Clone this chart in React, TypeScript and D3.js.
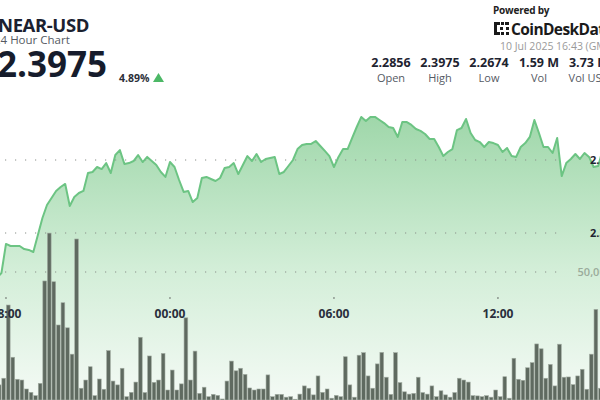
import React from "react";
import * as d3 from "d3";

// 10-minute steps, 2025-07-09 16:50 → 2025-07-10 16:40 (GMT)
const startTime = new Date(Date.UTC(2025, 6, 9, 16, 50));
const stepMinutes = 10;

const prices: number[] = [
  2.2856, 2.2801, 2.2760, 2.2712, 2.2674, 2.2692, 2.2726, 2.2925, 2.2911, 2.2911,
  2.2911, 2.2890, 2.2884, 2.2870, 2.2986, 2.3103, 2.3192, 2.3240, 2.3288, 2.3315,
  2.3336, 2.3185, 2.3247, 2.3274, 2.3288, 2.3411, 2.3418, 2.3452, 2.3438, 2.3479,
  2.3411, 2.3534, 2.3568, 2.3473, 2.3479, 2.3493, 2.3534, 2.3486, 2.3521, 2.3493,
  2.3466, 2.3418, 2.3384, 2.3486, 2.3452, 2.3363, 2.3281, 2.3288, 2.3212, 2.3240,
  2.3377, 2.3384, 2.3370, 2.3356, 2.3377, 2.3445, 2.3452, 2.3479, 2.3404, 2.3466,
  2.3527, 2.3493, 2.3541, 2.3486, 2.3507, 2.3514, 2.3521, 2.3404, 2.3418, 2.3459,
  2.3500, 2.3575, 2.3603, 2.3610, 2.3610, 2.3630, 2.3596, 2.3562, 2.3527, 2.3452,
  2.3521, 2.3575, 2.3575, 2.3651, 2.3726, 2.3795, 2.3767, 2.3795, 2.3795, 2.3774,
  2.3753, 2.3726, 2.3719, 2.3658, 2.3760, 2.3760, 2.3740, 2.3712, 2.3699, 2.3678,
  2.3644, 2.3644, 2.3589, 2.3527, 2.3555, 2.3575, 2.3705, 2.3719, 2.3781, 2.3685,
  2.3637, 2.3623, 2.3589, 2.3623, 2.3616, 2.3603, 2.3555, 2.3582, 2.3527, 2.3521,
  2.3589, 2.3616, 2.3658, 2.3774, 2.3685, 2.3589, 2.3589, 2.3548, 2.3651, 2.3390,
  2.3479, 2.3507, 2.3541, 2.3507, 2.3548, 2.3521, 2.3452, 2.3459, 2.3568, 2.3651,
  2.3740, 2.3829, 2.3911, 2.3975,
];

const volumes: number[] = [
  5900, 3900, 7800, 3100, 4700, 5900, 8500, 37100, 16700, 8100,
  7800, 4300, 3000, 1700, 6500, 46500, 65200, 46200, 29300, 38000,
  28200, 17900, 62900, 4600, 7800, 13000, 1700, 8200, 4200, 19300,
  7400, 5900, 12400, 1300, 3000, 7000, 24500, 2900, 17200, 6900,
  7800, 18200, 3900, 11700, 3900, 6300, 32100, 7800, 19100, 2600,
  5000, 1300, 2200, 1800, 400, 7400, 15200, 11400, 12400, 10000,
  4700, 3900, 4300, 4300, 9800, 1300, 2200, 2200, 1100, 1300,
  300, 2300, 5500, 4600, 2000, 9400, 3000, 4300, 700, 1800,
  1300, 16900, 5900, 1100, 17500, 18500, 9400, 4600, 14100, 18600,
  8900, 2200, 18500, 6800, 3200, 2300, 2600, 8900, 2900, 2300,
  5500, 1300, 3600, 2000, 1100, 2900, 8500, 7800, 7000, 1700,
  1600, 1300, 1700, 1100, 3900, 1300, 9100, 700, 16300, 8100,
  7700, 12600, 14600, 21900, 20000, 8500, 13900, 5500, 21800, 8900,
  9000, 6000, 9400, 12000, 4200, 17900, 35400, 4600, 31300, 39100,
  27300, 23400, 19500, 15600,
];

const xTickTimes: Date[] = [
  new Date(Date.UTC(2025, 6, 9, 18, 0)),
  new Date(Date.UTC(2025, 6, 10, 0, 0)),
  new Date(Date.UTC(2025, 6, 10, 6, 0)),
  new Date(Date.UTC(2025, 6, 10, 12, 0)),
];
const xTickLabels: string[] = ["18:00", "00:00", "06:00", "12:00"];

const priceTicks: number[] = [2.35, 2.3];
const priceTickLabels: string[] = ["2.35", "2.30"];
const volumeTicks: number[] = [50000];
const volumeTickLabels: string[] = ["50,000"];

const statValues: string[] = ["2.2856", "2.3975", "2.2674", "1.59 M", "3.73 M"];
const statLabels: string[] = ["Open", "High", "Low", "Vol", "Vol USD"];

const FONT = "'Open Sans', 'Noto Sans', sans-serif";

export default function App() {
  const W = 600;
  const H = 400;
  const times = prices.map((_, i) => new Date(startTime.getTime() + i * stepMinutes * 60000));
  const data = prices.map((p, i) => ({ t: times[i], p, v: volumes[i] }));

  const x = d3
    .scaleTime()
    .domain([times[0], times[times.length - 1]])
    .range([-25.9, 625.5]);
  const y = d3.scaleLinear().domain([2.3, 2.35]).range([233, 160]);
  const yv = d3.scaleLinear().domain([0, 50000]).range([400, 272]);

  const line = d3
    .line<{ t: Date; p: number }>()
    .x((d) => x(d.t))
    .y((d) => y(d.p));
  const area = d3
    .area<{ t: Date; p: number }>()
    .x((d) => x(d.t))
    .y0(H)
    .y1((d) => y(d.p));

  const step = x(times[1]) - x(times[0]);
  const barW = step * 0.82;

  const statX = [391, 440, 489, 539, 589];

  return (
    <svg
      width={W}
      height={H}
      style={{ position: "absolute", left: 0, top: 0, background: "#fff" }}
      fontFamily={FONT}
    >
      <defs>
        <linearGradient id="areaGrad" gradientUnits="userSpaceOnUse" x1="0" y1="110" x2="0" y2="400">
          <stop offset="0%" stopColor="#9dd6a8" />
          <stop offset="55%" stopColor="#d3eed8" />
          <stop offset="100%" stopColor="#f4faf5" />
        </linearGradient>
      </defs>
      <rect x={0} y={0} width={W} height={H} fill="#fff" />

      <path d={area(data) || ""} fill="url(#areaGrad)" />

      {/* dotted gridlines */}
      {priceTicks.map((t, i) => (
        <line key={"pg" + i} x1={5} x2={562} y1={y(t)} y2={y(t)} stroke="#8a8f8a" strokeWidth={1.2} strokeDasharray="1.2,8.8" />
      ))}
      {volumeTicks.map((t, i) => (
        <line key={"vg" + i} x1={5} x2={562} y1={yv(t)} y2={yv(t)} stroke="#8a8f8a" strokeWidth={1.2} strokeDasharray="1.2,8.8" />
      ))}

      {/* volume bars */}
      {data.map((d, i) => (
        <rect
          key={"b" + i}
          x={x(d.t) + 0.4}
          y={yv(d.v)}
          width={barW}
          height={Math.max(0, H - yv(d.v))}
          fill="#5f6a60"
          stroke="#a3ada3"
          strokeWidth={0.6}
        />
      ))}

      <path d={line(data) || ""} fill="none" stroke="#6cc483" strokeWidth={2} strokeLinejoin="round" />

      {/* axis labels */}
      {priceTicks.map((t, i) => (
        <text key={"pl" + i} x={612} y={y(t) + 4} textAnchor="end" fontSize={11} fontWeight={700} fill="#1f2430">
          {priceTickLabels[i]}
        </text>
      ))}
      {volumeTicks.map((t, i) => (
        <text key={"vl" + i} x={612} y={yv(t) + 4} textAnchor="end" fontSize={11} fontWeight={600} fill="#9aab9b">
          {volumeTickLabels[i]}
        </text>
      ))}
      {xTickTimes.map((t, i) => (
        <g key={"xt" + i}>
          <circle cx={x(t)} cy={298} r={0.8} fill="#555" />
          <text x={x(t)} y={318} textAnchor="middle" fontSize={12} fontWeight={700} fill="#2a2f3c">
            {xTickLabels[i]}
          </text>
        </g>
      ))}

      {/* header left */}
      <text x={-2} y={32} fontSize={18.5} fontWeight={700} fill="#1b2130" letterSpacing={-0.4}>NEAR-USD</text>
      <text x={-6} y={43.5} fontSize={11.5} fill="#555a63">24 Hour Chart</text>
      <text x={-3} y={77} fontSize={35} fontWeight={700} fill="#161c2c">2.3975</text>
      <text x={119} y={82} fontSize={10.5} fontWeight={700} fill="#2b2f38">4.89%</text>
      <path d="M153,82 L164,82 L158.5,73 Z" fill="#4cb866" />

      {/* header right */}
      <text x={493} y={14} fontSize={10} fontWeight={700} fill="#222" letterSpacing={-0.2}>Powered by</text>
      <g fill="#1a1a1a">
        <rect x={494} y={22} width={3} height={13} />
        <rect x={494} y={22} width={6} height={3} />
        <rect x={494} y={32} width={6} height={3} />
        <rect x={501} y={22} width={3} height={3} />
        <rect x={501} y={32} width={3} height={3} />
        <rect x={505} y={22} width={4} height={3} />
        <rect x={506} y={32} width={3} height={3} />
        <rect x={506} y={27} width={3} height={3} />
        <rect x={500} y={27} width={3} height={3} />
      </g>
      <text x={511} y={35} fontSize={15.5} fontWeight={700} fill="#1a1a1a" letterSpacing={-0.6}>CoinDeskData</text>
      <text x={500} y={50} fontSize={10.5} fill="#9a9a9a">10 Jul 2025 16:43 (GMT)</text>

      {statValues.map((v, i) => (
        <g key={"st" + i}>
          <text x={statX[i]} y={67} textAnchor="middle" fontSize={12.5} fontWeight={700} fill="#1e2330">{v}</text>
          <text x={statX[i]} y={82} textAnchor="middle" fontSize={11} fill="#555a63">{statLabels[i]}</text>
        </g>
      ))}
    </svg>
  );
}
